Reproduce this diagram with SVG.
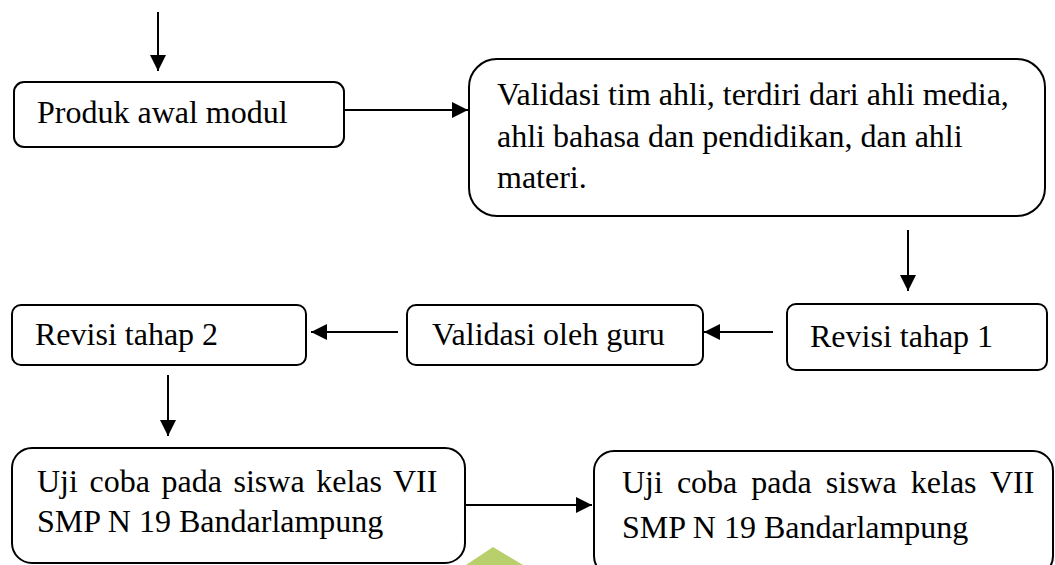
<svg xmlns="http://www.w3.org/2000/svg" width="1055" height="565" viewBox="0 0 1055 565">
<style>
.box{fill:#fff;stroke:#000;stroke-width:2}
.t{font-family:"Liberation Serif","Times New Roman",serif;font-size:32px;fill:#000}
.c{stroke:#000;stroke-width:2;fill:none;marker-end:url(#ah)}
</style>
<defs>
<marker id="ah" markerUnits="userSpaceOnUse" markerWidth="18" markerHeight="16" refX="16" refY="8" orient="auto">
<path d="M0,0 L16,8 L0,16 Z" fill="#000"/>
</marker>
</defs>
<rect width="1055" height="565" fill="#fff"/>
<polygon points="466,565 493,547 523,565" fill="#b9cf6c"/>
<g id="connectors">
<line class="c" x1="158" y1="12" x2="158" y2="71"/>
<line class="c" x1="344" y1="110" x2="468" y2="110"/>
<line class="c" x1="908" y1="230" x2="908" y2="291"/>
<line class="c" x1="773" y1="332" x2="704" y2="332"/>
<line class="c" x1="398" y1="332" x2="311" y2="332"/>
<line class="c" x1="168" y1="375" x2="168" y2="436"/>
<line class="c" x1="465" y1="505" x2="592" y2="505"/>
</g>
<g id="n1">
<rect class="box" x="14" y="82" width="330" height="65" rx="10"/>
<text class="t" x="37" y="123">Produk awal modul</text>
</g>
<g id="n2">
<rect class="box" x="469" y="59" width="576" height="157" rx="28"/>
<text class="t" x="497" y="105">Validasi tim ahli, terdiri dari ahli media,</text>
<text class="t" x="497" y="147">ahli bahasa dan pendidikan, dan ahli</text>
<text class="t" x="497" y="188">materi.</text>
</g>
<g id="n3">
<rect class="box" x="787" y="304" width="260" height="66" rx="9"/>
<text class="t" x="810" y="347">Revisi tahap 1</text>
</g>
<g id="n4">
<rect class="box" x="407" y="305" width="296" height="60" rx="9"/>
<text class="t" x="432" y="345">Validasi oleh guru</text>
</g>
<g id="n5">
<rect class="box" x="12" y="305" width="294" height="60" rx="9"/>
<text class="t" x="35" y="345">Revisi tahap 2</text>
</g>
<g id="n6">
<rect class="box" x="12" y="448" width="453" height="115" rx="20"/>
<text class="t" x="37" y="492" word-spacing="3.6">Uji coba pada siswa kelas VII</text>
<text class="t" x="37" y="532">SMP N 19 Bandarlampung</text>
</g>
<g id="n7">
<rect class="box" x="594" y="451" width="459" height="125" rx="20"/>
<text class="t" x="622" y="493" word-spacing="6">Uji coba pada siswa kelas VII</text>
<text class="t" x="622" y="538">SMP N 19 Bandarlampung</text>
</g>
</svg>
